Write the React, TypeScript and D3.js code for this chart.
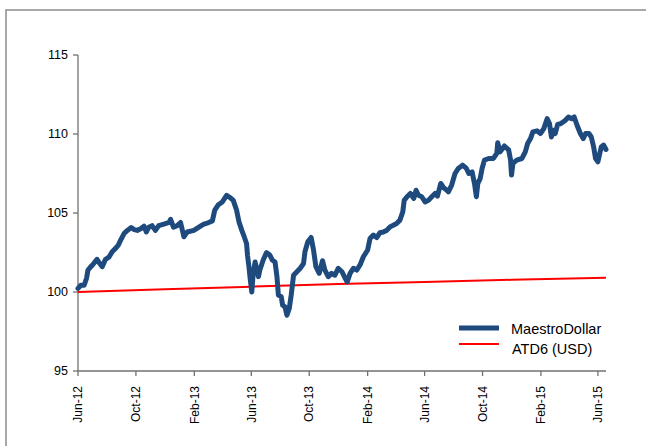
import * as d3 from "d3";
import React from "react";

// MaestroDollar index (date, value)
const maestroDates = [
  "2012-06-01", "2012-06-07", "2012-06-14", "2012-06-19", "2012-06-22", "2012-06-28",
  "2012-07-04", "2012-07-11", "2012-07-17", "2012-07-22", "2012-07-29", "2012-08-05",
  "2012-08-12", "2012-08-19", "2012-08-25", "2012-08-30", "2012-09-06", "2012-09-13",
  "2012-09-21", "2012-09-27", "2012-10-04", "2012-10-11", "2012-10-18", "2012-10-23",
  "2012-10-28", "2012-11-04", "2012-11-11", "2012-11-18", "2012-11-29", "2012-12-10",
  "2012-12-13", "2012-12-19", "2012-12-27", "2013-01-03", "2013-01-10", "2013-01-17",
  "2013-01-31", "2013-02-14", "2013-02-21", "2013-03-02", "2013-03-11", "2013-03-16",
  "2013-03-23", "2013-04-01", "2013-04-10", "2013-04-17", "2013-04-24", "2013-05-01",
  "2013-05-06", "2013-05-12", "2013-05-17", "2013-05-22", "2013-05-24", "2013-05-27",
  "2013-05-30", "2013-06-02", "2013-06-05", "2013-06-09", "2013-06-12", "2013-06-16",
  "2013-06-19", "2013-06-26", "2013-07-03", "2013-07-10", "2013-07-15", "2013-07-21",
  "2013-07-25", "2013-07-28", "2013-08-03", "2013-08-06", "2013-08-11", "2013-08-15",
  "2013-08-20", "2013-08-24", "2013-08-29", "2013-09-05", "2013-09-12", "2013-09-19",
  "2013-09-22", "2013-09-28", "2013-10-05", "2013-10-10", "2013-10-15", "2013-10-22",
  "2013-10-29", "2013-11-03", "2013-11-10", "2013-11-17", "2013-11-24", "2013-12-01",
  "2013-12-09", "2013-12-16", "2013-12-20", "2013-12-26", "2014-01-02", "2014-01-09",
  "2014-01-16", "2014-01-23", "2014-02-01", "2014-02-06", "2014-02-13", "2014-02-20",
  "2014-02-27", "2014-03-06", "2014-03-13", "2014-03-20", "2014-03-27", "2014-04-03",
  "2014-04-10", "2014-04-16", "2014-04-19", "2014-04-25", "2014-05-02", "2014-05-09",
  "2014-05-14", "2014-05-19", "2014-05-26", "2014-06-02", "2014-06-09", "2014-06-16",
  "2014-06-23", "2014-06-28", "2014-07-05", "2014-07-11", "2014-07-18", "2014-07-21",
  "2014-07-28", "2014-08-04", "2014-08-11", "2014-08-20", "2014-08-28", "2014-09-02",
  "2014-09-09", "2014-09-14", "2014-09-18", "2014-09-21", "2014-09-26", "2014-09-30",
  "2014-10-05", "2014-10-14", "2014-10-24", "2014-10-31", "2014-11-02", "2014-11-07",
  "2014-11-16", "2014-11-25", "2014-11-29", "2014-12-01", "2014-12-04", "2014-12-12",
  "2014-12-23", "2014-12-30", "2015-01-04", "2015-01-10", "2015-01-15", "2015-01-24",
  "2015-01-31", "2015-02-07", "2015-02-14", "2015-02-19", "2015-02-23", "2015-02-26",
  "2015-03-03", "2015-03-08", "2015-03-15", "2015-03-24", "2015-03-31", "2015-04-07",
  "2015-04-12", "2015-04-18", "2015-04-25", "2015-05-01", "2015-05-06", "2015-05-13",
  "2015-05-18", "2015-05-23", "2015-05-27", "2015-06-01", "2015-06-04", "2015-06-08",
  "2015-06-13", "2015-06-18",
];
const maestroValues = [
  100.23, 100.43, 100.43, 100.87, 101.39, 101.6,
  101.8, 102.07, 101.8, 101.6, 102.07, 102.2,
  102.55, 102.76, 102.97, 103.3, 103.7, 103.9,
  104.08, 103.95, 103.9, 104.0, 104.17, 103.8,
  104.1, 104.2, 103.9, 104.2, 104.3, 104.4,
  104.6, 104.1, 104.2, 104.4, 103.5, 103.8,
  103.9, 104.17, 104.3, 104.38, 104.5, 105.18,
  105.5, 105.7, 106.12, 105.98, 105.8, 105.18,
  104.44, 103.9, 103.5, 103.07, 102.33, 101.6,
  100.75, 100.0, 101.18, 101.9, 101.5, 100.97,
  101.39, 102.03, 102.49, 102.34, 102.03, 101.9,
  100.97, 99.8, 99.7, 99.16, 99.06, 98.53,
  98.96, 99.8, 101.06, 101.28, 101.5, 101.8,
  102.55, 103.18, 103.45, 102.66, 101.6, 101.18,
  101.98, 101.39, 100.97, 101.18, 101.06, 101.5,
  101.28, 100.85, 100.64, 101.18, 101.5, 101.39,
  101.71, 102.23, 102.66, 103.39, 103.6, 103.45,
  103.75, 103.8, 103.9, 104.12, 104.23, 104.34,
  104.55, 105.07, 105.8, 106.03, 106.24, 105.92,
  106.44, 106.12, 106.03, 105.7, 105.8, 106.03,
  106.24, 106.07, 106.87, 106.6, 106.44, 106.34,
  106.77, 107.5, 107.82, 108.03, 107.82, 107.5,
  107.6, 106.87, 106.03, 106.87, 107.18, 107.82,
  108.35, 108.45, 108.45, 108.77, 109.44, 108.87,
  109.24, 108.99, 108.35, 107.4, 108.14, 108.35,
  108.45, 108.87, 109.4, 109.71, 110.13, 110.2,
  110.03, 110.34, 110.97, 110.66, 109.81, 110.24,
  110.03, 110.6, 110.66, 110.86, 111.08, 110.97,
  111.08, 110.55, 110.03, 109.71, 110.03, 110.03,
  109.81, 109.18, 108.45, 108.24, 108.66, 109.18,
  109.3, 109.02,
];

// ATD6 (USD) benchmark
const atdDates = ["2012-06-01", "2012-12-01", "2013-06-01", "2013-12-01", "2014-06-01", "2014-12-01", "2015-06-18"];
const atdValues = [100.0, 100.17, 100.34, 100.5, 100.64, 100.77, 100.9];

const xTickDates = [
  "2012-06-01", "2012-10-01", "2013-02-01", "2013-06-01", "2013-10-01",
  "2014-02-01", "2014-06-01", "2014-10-01", "2015-02-01", "2015-06-01",
];
const yTicks = [95, 100, 105, 110, 115];

const seriesNames = ["MaestroDollar", "ATD6 (USD)"];
const seriesColors = ["#1F4A7E", "#FF0000"];

const width = 646;
const height = 446;
const margin = { top: 55, right: 40, bottom: 75, left: 78 };
const font = "'Liberation Sans', Arial, sans-serif";

type Pt = { date: Date; value: number };

export default function App() {
  const parse = d3.utcParse("%Y-%m-%d");
  const maestro: Pt[] = maestroDates.map((d, i) => ({ date: parse(d)!, value: maestroValues[i] }));
  const atd: Pt[] = atdDates.map((d, i) => ({ date: parse(d)!, value: atdValues[i] }));

  const x = d3
    .scaleUtc()
    .domain([parse(maestroDates[0])!, parse(maestroDates[maestroDates.length - 1])!])
    .range([margin.left, width - margin.right]);

  const y = d3
    .scaleLinear()
    .domain([95, 115])
    .range([height - margin.bottom, margin.top]);

  const line = d3
    .line<Pt>()
    .x((d) => x(d.date))
    .y((d) => y(d.value));

  const fmt = d3.utcFormat("%b-%y");
  const axisColor = "#707070";
  const x0 = x.range()[0];
  const x1 = x.range()[1];
  const yBottom = y(95);

  return (
    <svg
      width={width}
      height={height}
      style={{ position: "absolute", left: 0, top: 0, background: "#fff" }}
    >
      <rect x={6} y={10} width={700} height={500} fill="#fff" stroke="#8c8c8c" strokeWidth={1.5} />

      {/* y axis */}
      <line x1={x0} x2={x0} y1={y(115)} y2={yBottom} stroke={axisColor} strokeWidth={1.3} />
      {yTicks.map((t) => (
        <g key={t}>
          <line x1={x0 - 5} x2={x0} y1={y(t)} y2={y(t)} stroke={axisColor} strokeWidth={1.3} />
          <text x={x0 - 10} y={y(t)} dy="0.35em" textAnchor="end" fontFamily={font} fontSize={12.5}>
            {t}
          </text>
        </g>
      ))}

      {/* x axis */}
      <line x1={x0} x2={x1} y1={yBottom} y2={yBottom} stroke={axisColor} strokeWidth={1.3} />
      {xTickDates.map((d) => {
        const tx = x(parse(d)!);
        return (
          <g key={d}>
            <line x1={tx} x2={tx} y1={yBottom} y2={yBottom + 5} stroke={axisColor} strokeWidth={1.3} />
            <text
              transform={`translate(${tx},${yBottom + 15}) rotate(-90)`}
              dy="0.35em"
              textAnchor="end"
              fontFamily={font}
              fontSize={12}
            >
              {fmt(parse(d)!)}
            </text>
          </g>
        );
      })}

      {/* series */}
      <path d={line(atd) ?? ""} fill="none" stroke={seriesColors[1]} strokeWidth={2} />
      <path
        d={line(maestro) ?? ""}
        fill="none"
        stroke={seriesColors[0]}
        strokeWidth={5}
        strokeLinejoin="round"
        strokeLinecap="round"
      />

      {/* legend */}
      <g fontFamily={font} fontSize={14.5}>
        <line x1={459} x2={499} y1={328} y2={328} stroke={seriesColors[0]} strokeWidth={5} />
        <text x={511} y={333.5}>{seriesNames[0]}</text>
        <line x1={459} x2={499} y1={344} y2={344} stroke={seriesColors[1]} strokeWidth={2} />
        <text x={512} y={354}>{seriesNames[1]}</text>
      </g>
    </svg>
  );
}
